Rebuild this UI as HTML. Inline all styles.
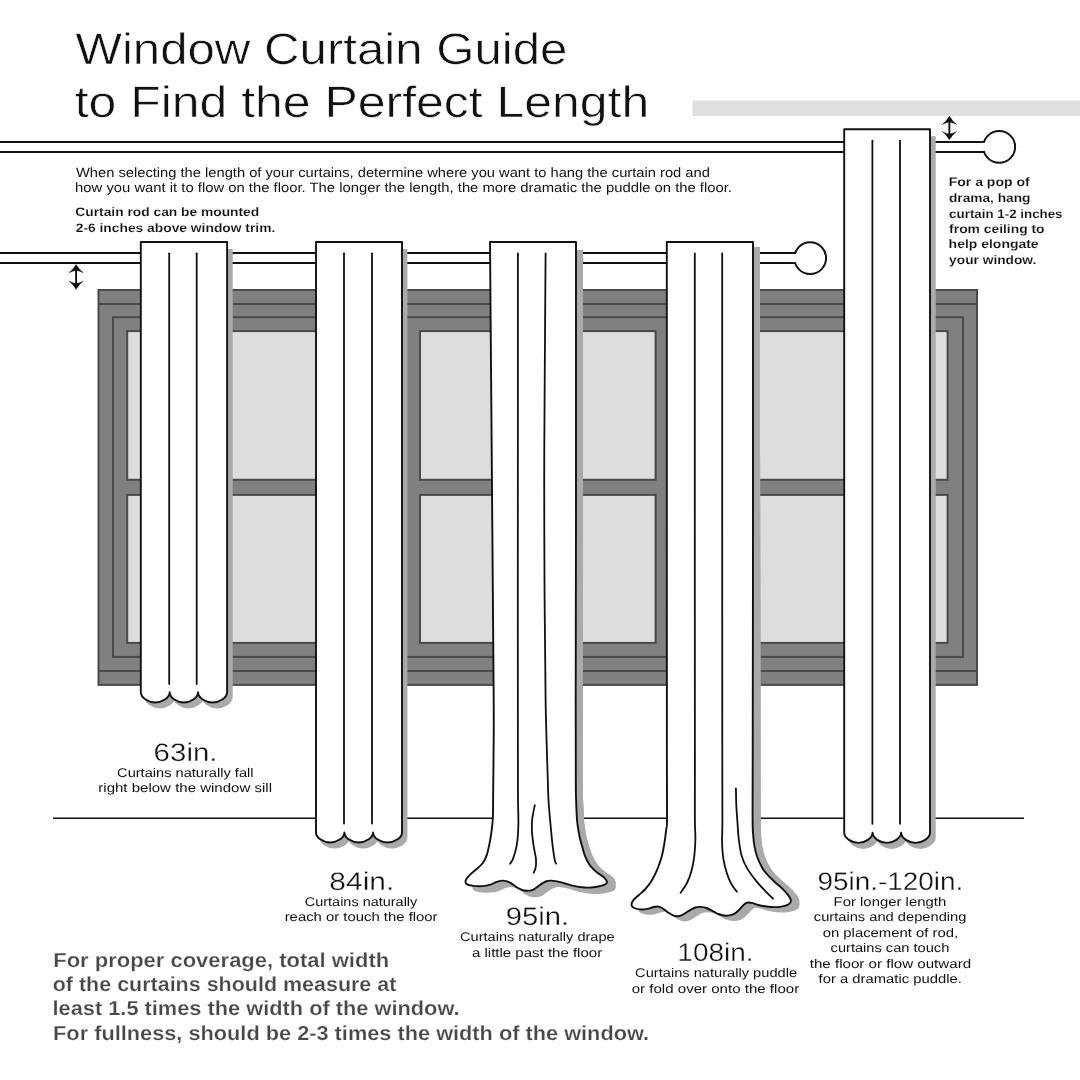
<!DOCTYPE html>
<html><head><meta charset="utf-8"><title>Window Curtain Guide</title>
<style>html,body{margin:0;padding:0;background:#fff;}body{width:1080px;height:1080px;overflow:hidden;}svg{display:block;position:absolute;left:0;top:0;filter:grayscale(1);}text{font-family:"Liberation Sans",sans-serif;text-rendering:geometricPrecision;}</style>
</head><body>
<svg width="1080" height="1080" viewBox="0 0 1080 1080">
<rect x="0" y="0" width="1080" height="1080" fill="#ffffff"/>
<rect x="692.5" y="100.5" width="387.5" height="15.5" fill="#dfdfdf"/>
<g stroke="#4a4a4a" stroke-width="2" stroke-linejoin="miter">
<rect x="98.5" y="290" width="878.5" height="394.9" fill="#808080"/>
<line x1="98.5" y1="304" x2="977" y2="304"/>
<line x1="98.5" y1="671" x2="977" y2="671"/>
<rect x="113" y="317.2" width="850" height="339.7" fill="#808080"/>
<rect x="127.2" y="331.1" width="277.8" height="148.7" fill="#dddddd"/>
<rect x="127.2" y="494.9" width="277.8" height="148.0" fill="#dddddd"/>
<rect x="420.0" y="331.1" width="235.6" height="148.7" fill="#dddddd"/>
<rect x="420.0" y="494.9" width="235.6" height="148.0" fill="#dddddd"/>
<rect x="670.6" y="331.1" width="277.0" height="148.7" fill="#dddddd"/>
<rect x="670.6" y="494.9" width="277.0" height="148.0" fill="#dddddd"/>
</g>
<g stroke="#111" stroke-width="2" fill="none">
<line x1="0" y1="141.9" x2="985.3" y2="141.9"/>
<line x1="0" y1="151.9" x2="985.3" y2="151.9"/>
<circle cx="999.2" cy="146.9" r="15.9" fill="#fff"/>
<rect x="980.3" y="142.9" width="6" height="8" fill="#fff" stroke="none"/>
</g>
<g stroke="#111" stroke-width="2" fill="none">
<line x1="0" y1="253.1" x2="796.3" y2="253.1"/>
<line x1="0" y1="263.1" x2="796.3" y2="263.1"/>
<circle cx="810.2" cy="258.1" r="15.9" fill="#fff"/>
<rect x="791.3" y="254.1" width="6" height="8" fill="#fff" stroke="none"/>
</g>
<line x1="53" y1="818.2" x2="1024" y2="818.2" stroke="#111" stroke-width="1.5"/>
<g fill="#111" stroke="#111" stroke-width="0.3" stroke-linejoin="round">
<path d="M76.10,264.40 Q73.20,269.30 68.90,272.80 Q73.10,270.80 76.10,270.30 Q79.10,270.80 83.30,272.80 Q79.00,269.30 76.10,264.40 Z"/>
<path d="M76.10,289.40 Q73.20,284.50 68.90,281.00 Q73.10,283.00 76.10,283.50 Q79.10,283.00 83.30,281.00 Q79.00,284.50 76.10,289.40 Z"/>
<rect x="75.15" y="268.40" width="1.9" height="17.00" stroke="none"/>
</g>
<g fill="#111" stroke="#111" stroke-width="0.3" stroke-linejoin="round">
<path d="M949.40,116.10 Q946.50,121.00 942.20,124.50 Q946.40,122.50 949.40,122.00 Q952.40,122.50 956.60,124.50 Q952.30,121.00 949.40,116.10 Z"/>
<path d="M949.40,139.80 Q946.50,134.90 942.20,131.40 Q946.40,133.40 949.40,133.90 Q952.40,133.40 956.60,131.40 Q952.30,134.90 949.40,139.80 Z"/>
<rect x="948.45" y="120.10" width="1.9" height="15.70" stroke="none"/>
</g>
<g>
<clipPath id="c140"><rect x="135.8" y="249.0" width="200" height="1000"/></clipPath>
<g clip-path="url(#c140)"><path d="M140.8,242.0 L227.1,242.0 L227.1,692.3 C227.10,697.93 219.06,702.50 212.55,702.50 C206.04,702.50 198.00,697.93 198.00,692.30 C198.00,697.93 190.18,702.50 183.85,702.50 C177.52,702.50 169.70,697.93 169.70,692.30 C169.70,697.93 161.72,702.50 155.25,702.50 C148.78,702.50 140.80,697.93 140.80,692.30 Z" transform="translate(4.6,5.0)" fill="#aaaaaa" stroke="#aaaaaa" stroke-width="2"/></g>
<path d="M140.8,242.0 L227.1,242.0 L227.1,692.3 C227.10,697.93 219.06,702.50 212.55,702.50 C206.04,702.50 198.00,697.93 198.00,692.30 C198.00,697.93 190.18,702.50 183.85,702.50 C177.52,702.50 169.70,697.93 169.70,692.30 C169.70,697.93 161.72,702.50 155.25,702.50 C148.78,702.50 140.80,697.93 140.80,692.30 Z" fill="#fff" stroke="#111" stroke-width="1.9" stroke-linejoin="round"/>
<line x1="169.2" y1="253.3" x2="169.2" y2="684.0" stroke="#111" stroke-width="1.8" stroke-linecap="round"/>
<line x1="196.7" y1="253.3" x2="196.7" y2="684.0" stroke="#111" stroke-width="1.8" stroke-linecap="round"/>
</g>
<g>
<clipPath id="c316"><rect x="311.0" y="249.0" width="200" height="1000"/></clipPath>
<g clip-path="url(#c316)"><path d="M316.0,242.0 L402.0,242.0 L402.0,832.4 C402.00,837.98 393.99,842.50 387.50,842.50 C381.01,842.50 373.00,837.98 373.00,832.40 C373.00,837.98 365.10,842.50 358.70,842.50 C352.30,842.50 344.40,837.98 344.40,832.40 C344.40,837.98 336.56,842.50 330.20,842.50 C323.84,842.50 316.00,837.98 316.00,832.40 Z" transform="translate(4.4,5.0)" fill="#aaaaaa" stroke="#aaaaaa" stroke-width="2"/></g>
<path d="M316.0,242.0 L402.0,242.0 L402.0,832.4 C402.00,837.98 393.99,842.50 387.50,842.50 C381.01,842.50 373.00,837.98 373.00,832.40 C373.00,837.98 365.10,842.50 358.70,842.50 C352.30,842.50 344.40,837.98 344.40,832.40 C344.40,837.98 336.56,842.50 330.20,842.50 C323.84,842.50 316.00,837.98 316.00,832.40 Z" fill="#fff" stroke="#111" stroke-width="1.9" stroke-linejoin="round"/>
<line x1="344.0" y1="253.3" x2="344.0" y2="823.5" stroke="#111" stroke-width="1.8" stroke-linecap="round"/>
<line x1="372.0" y1="253.3" x2="372.0" y2="823.5" stroke="#111" stroke-width="1.8" stroke-linecap="round"/>
</g>
<g>
<clipPath id="c844"><rect x="839.2" y="136.3" width="200" height="1000"/></clipPath>
<g clip-path="url(#c844)"><path d="M844.2,129.3 L930.0,129.3 L930.0,832.6 C930.00,838.29 922.02,842.90 915.55,842.90 C909.08,842.90 901.10,838.29 901.10,832.60 C901.10,838.29 893.23,842.90 886.85,842.90 C880.47,842.90 872.60,838.29 872.60,832.60 C872.60,838.29 864.76,842.90 858.40,842.90 C852.04,842.90 844.20,838.29 844.20,832.60 Z" transform="translate(4.7,5.0)" fill="#aaaaaa" stroke="#aaaaaa" stroke-width="2"/></g>
<path d="M844.2,129.3 L930.0,129.3 L930.0,832.6 C930.00,838.29 922.02,842.90 915.55,842.90 C909.08,842.90 901.10,838.29 901.10,832.60 C901.10,838.29 893.23,842.90 886.85,842.90 C880.47,842.90 872.60,838.29 872.60,832.60 C872.60,838.29 864.76,842.90 858.40,842.90 C852.04,842.90 844.20,838.29 844.20,832.60 Z" fill="#fff" stroke="#111" stroke-width="1.9" stroke-linejoin="round"/>
<line x1="872.4" y1="140.6" x2="872.4" y2="823.8" stroke="#111" stroke-width="1.8" stroke-linecap="round"/>
<line x1="900.0" y1="140.6" x2="900.0" y2="823.8" stroke="#111" stroke-width="1.8" stroke-linecap="round"/>
</g>
<g>
<clipPath id="c3"><rect x="430.0" y="250.0" width="300" height="800"/></clipPath>
<g clip-path="url(#c3)" fill="#aaaaaa" stroke="#aaaaaa" stroke-width="2" stroke-linejoin="round">
<path d="M496.0,242.0 L582.0,242.0 L582.0,500.0 C582.0,576.3 581.7,653.3 581.7,700.0 C581.7,746.7 581.7,763.3 581.8,780.0 C581.9,796.7 581.9,793.6 582.1,800.0 C582.3,806.4 582.6,813.9 582.9,818.5 C583.2,823.1 583.5,824.7 584.0,827.8 C584.5,830.9 584.9,833.9 585.6,837.0 C586.3,840.1 587.2,843.2 588.2,846.3 C589.2,849.4 590.1,852.5 591.5,855.6 C593.0,858.7 594.9,862.3 596.7,864.8 C598.5,867.3 600.4,868.8 602.1,870.4 C603.9,872.0 605.4,872.9 607.0,874.1 C608.7,875.3 610.9,876.5 612.2,877.8 C613.5,879.1 614.6,880.8 614.7,881.9 C614.8,883.0 614.5,883.9 612.6,884.7 C610.7,885.6 606.8,886.5 603.4,887.0 C600.0,887.5 596.1,887.7 592.2,887.5 C588.3,887.3 584.0,886.5 580.2,885.6 C576.3,884.8 572.6,883.2 569.1,882.4 C565.6,881.6 561.6,880.8 559.0,880.6 C556.4,880.5 555.3,880.8 553.5,881.5 C551.7,882.2 550.1,883.3 548.0,884.7 C545.9,886.1 543.1,888.8 540.6,889.8 C538.1,890.8 535.7,891.0 533.2,890.7 C530.7,890.4 528.4,889.4 525.8,888.0 C523.2,886.6 519.9,883.6 517.4,882.4 C514.9,881.2 513.1,880.7 510.9,880.6 C508.8,880.5 506.6,881.2 504.5,881.9 C502.4,882.6 500.3,884.0 498.0,884.7 C495.7,885.4 493.4,885.9 490.6,886.1 C487.8,886.3 483.9,886.2 481.3,885.9 C478.7,885.6 476.1,885.0 474.8,884.3 C473.5,883.6 473.4,882.8 473.3,881.9 C473.2,881.0 473.5,880.0 474.4,878.7 C475.3,877.4 476.7,875.8 478.4,874.1 C480.1,872.4 482.7,870.4 484.6,868.5 C486.5,866.6 488.4,865.3 489.9,863.0 C491.4,860.7 492.5,858.0 493.5,854.6 C494.4,851.2 495.0,846.6 495.7,842.6 C496.4,838.6 497.1,834.6 497.6,830.6 C498.1,826.6 498.6,823.6 498.8,818.5 C499.1,813.4 499.0,809.8 499.1,800.0 C499.2,790.2 499.4,776.7 499.5,760.0 C499.6,743.3 499.9,743.3 499.7,700.0 C499.5,656.7 498.7,576.3 498.1,500.0 Z"/>
<path d="M496.0,243.4 L582.0,243.4 L582.0,501.4 C582.0,577.7 581.7,654.7 581.7,701.4 C581.7,748.0 581.7,764.7 581.8,781.4 C581.9,798.0 581.9,795.0 582.1,801.4 C582.3,807.8 582.6,815.2 582.9,819.9 C583.2,824.5 583.5,826.1 584.0,829.2 C584.5,832.3 584.9,835.3 585.6,838.4 C586.3,841.5 587.2,844.6 588.2,847.7 C589.2,850.8 590.1,853.9 591.5,857.0 C593.0,860.1 594.9,863.7 596.7,866.2 C598.5,868.6 600.4,870.2 602.1,871.8 C603.9,873.3 605.4,874.2 607.0,875.5 C608.7,876.7 610.9,877.9 612.2,879.2 C613.5,880.5 614.6,882.1 614.7,883.3 C614.8,884.4 614.5,885.2 612.6,886.1 C610.7,886.9 606.8,887.9 603.4,888.4 C600.0,888.8 596.1,889.1 592.2,888.9 C588.3,888.6 584.0,887.8 580.2,887.0 C576.3,886.1 572.6,884.6 569.1,883.8 C565.6,882.9 561.6,882.1 559.0,882.0 C556.4,881.8 555.3,882.2 553.5,882.9 C551.7,883.6 550.1,884.7 548.0,886.1 C545.9,887.5 543.1,890.2 540.6,891.2 C538.1,892.2 535.7,892.4 533.2,892.1 C530.7,891.8 528.4,890.8 525.8,889.4 C523.2,888.0 519.9,885.0 517.4,883.8 C514.9,882.5 513.1,882.1 510.9,882.0 C508.8,881.9 506.6,882.6 504.5,883.3 C502.4,884.0 500.3,885.4 498.0,886.1 C495.7,886.8 493.4,887.3 490.6,887.5 C487.8,887.7 483.9,887.6 481.3,887.3 C478.7,887.0 476.1,886.3 474.8,885.7 C473.5,885.0 473.4,884.2 473.3,883.3 C473.2,882.3 473.5,881.4 474.4,880.1 C475.3,878.8 476.7,877.2 478.4,875.5 C480.1,873.8 482.7,871.7 484.6,869.9 C486.5,868.0 488.4,866.7 489.9,864.4 C491.4,862.1 492.5,859.4 493.5,856.0 C494.4,852.6 495.0,848.0 495.7,844.0 C496.4,840.0 497.1,836.0 497.6,832.0 C498.1,828.0 498.6,825.0 498.8,819.9 C499.1,814.8 499.0,811.1 499.1,801.4 C499.2,791.6 499.4,778.0 499.5,761.4 C499.6,744.7 499.9,744.7 499.7,701.4 C499.5,658.0 498.7,577.7 498.1,501.4 Z"/>
<path d="M496.0,244.8 L582.0,244.8 L582.0,502.8 C582.0,579.1 581.7,656.1 581.7,702.8 C581.7,749.4 581.7,766.1 581.8,782.8 C581.9,799.4 581.9,796.3 582.1,802.8 C582.3,809.2 582.6,816.6 582.9,821.2 C583.2,825.9 583.5,827.5 584.0,830.5 C584.5,833.6 584.9,836.7 585.6,839.8 C586.3,842.8 587.2,845.9 588.2,849.0 C589.2,852.1 590.1,855.3 591.5,858.4 C593.0,861.4 594.9,865.1 596.7,867.5 C598.5,870.0 600.4,871.6 602.1,873.1 C603.9,874.7 605.4,875.6 607.0,876.9 C608.7,878.1 610.9,879.2 612.2,880.5 C613.5,881.8 614.6,883.5 614.7,884.6 C614.8,885.8 614.5,886.6 612.6,887.5 C610.7,888.3 606.8,889.3 603.4,889.8 C600.0,890.2 596.1,890.5 592.2,890.2 C588.3,890.0 584.0,889.2 580.2,888.4 C576.3,887.5 572.6,886.0 569.1,885.1 C565.6,884.3 561.6,883.5 559.0,883.4 C556.4,883.2 555.3,883.6 553.5,884.2 C551.7,884.9 550.1,886.1 548.0,887.5 C545.9,888.8 543.1,891.5 540.6,892.5 C538.1,893.5 535.7,893.8 533.2,893.5 C530.7,893.2 528.4,892.1 525.8,890.8 C523.2,889.4 519.9,886.4 517.4,885.1 C514.9,883.9 513.1,883.4 510.9,883.4 C508.8,883.3 506.6,884.0 504.5,884.6 C502.4,885.3 500.3,886.8 498.0,887.5 C495.7,888.2 493.4,888.7 490.6,888.9 C487.8,889.0 483.9,889.0 481.3,888.6 C478.7,888.3 476.1,887.7 474.8,887.0 C473.5,886.4 473.4,885.6 473.3,884.6 C473.2,883.7 473.5,882.8 474.4,881.5 C475.3,880.2 476.7,878.6 478.4,876.9 C480.1,875.1 482.7,873.1 484.6,871.2 C486.5,869.4 488.4,868.1 489.9,865.8 C491.4,863.4 492.5,860.8 493.5,857.4 C494.4,854.0 495.0,849.4 495.7,845.4 C496.4,841.4 497.1,837.4 497.6,833.4 C498.1,829.3 498.6,826.4 498.8,821.2 C499.1,816.1 499.0,812.5 499.1,802.8 C499.2,793.0 499.4,779.4 499.5,762.8 C499.6,746.1 499.9,746.1 499.7,702.8 C499.5,659.4 498.7,579.1 498.1,502.8 Z"/>
<path d="M496.0,246.1 L582.0,246.1 L582.0,504.1 C582.0,580.5 581.7,657.5 581.7,704.1 C581.7,750.8 581.7,767.5 581.8,784.1 C581.9,800.8 581.9,797.7 582.1,804.1 C582.3,810.5 582.6,818.0 582.9,822.6 C583.2,827.3 583.5,828.8 584.0,831.9 C584.5,835.0 584.9,838.0 585.6,841.1 C586.3,844.2 587.2,847.3 588.2,850.4 C589.2,853.5 590.1,856.6 591.5,859.7 C593.0,862.8 594.9,866.5 596.7,868.9 C598.5,871.4 600.4,873.0 602.1,874.5 C603.9,876.1 605.4,877.0 607.0,878.2 C608.7,879.5 610.9,880.6 612.2,881.9 C613.5,883.2 614.6,884.9 614.7,886.0 C614.8,887.2 614.5,888.0 612.6,888.8 C610.7,889.7 606.8,890.7 603.4,891.1 C600.0,891.6 596.1,891.9 592.2,891.6 C588.3,891.4 584.0,890.6 580.2,889.7 C576.3,888.9 572.6,887.4 569.1,886.5 C565.6,885.7 561.6,884.9 559.0,884.7 C556.4,884.6 555.3,884.9 553.5,885.6 C551.7,886.3 550.1,887.4 548.0,888.8 C545.9,890.2 543.1,892.9 540.6,893.9 C538.1,894.9 535.7,895.1 533.2,894.8 C530.7,894.5 528.4,893.5 525.8,892.1 C523.2,890.7 519.9,887.8 517.4,886.5 C514.9,885.3 513.1,884.8 510.9,884.7 C508.8,884.6 506.6,885.3 504.5,886.0 C502.4,886.7 500.3,888.1 498.0,888.8 C495.7,889.5 493.4,890.0 490.6,890.2 C487.8,890.4 483.9,890.3 481.3,890.0 C478.7,889.7 476.1,889.1 474.8,888.4 C473.5,887.8 473.4,887.0 473.3,886.0 C473.2,885.1 473.5,884.1 474.4,882.8 C475.3,881.5 476.7,879.9 478.4,878.2 C480.1,876.5 482.7,874.5 484.6,872.6 C486.5,870.8 488.4,869.4 489.9,867.1 C491.4,864.8 492.5,862.1 493.5,858.7 C494.4,855.3 495.0,850.7 495.7,846.7 C496.4,842.7 497.1,838.7 497.6,834.7 C498.1,830.7 498.6,827.7 498.8,822.6 C499.1,817.5 499.0,813.9 499.1,804.1 C499.2,794.4 499.4,780.8 499.5,764.1 C499.6,747.5 499.9,747.5 499.7,704.1 C499.5,660.8 498.7,580.5 498.1,504.1 Z"/>
<path d="M496.0,247.5 L582.0,247.5 L582.0,505.5 C582.0,581.8 581.7,658.8 581.7,705.5 C581.7,752.2 581.7,768.8 581.8,785.5 C581.9,802.2 581.9,799.1 582.1,805.5 C582.3,811.9 582.6,819.4 582.9,824.0 C583.2,828.6 583.5,830.2 584.0,833.3 C584.5,836.4 584.9,839.4 585.6,842.5 C586.3,845.6 587.2,848.7 588.2,851.8 C589.2,854.9 590.1,858.0 591.5,861.1 C593.0,864.2 594.9,867.8 596.7,870.3 C598.5,872.8 600.4,874.3 602.1,875.9 C603.9,877.5 605.4,878.4 607.0,879.6 C608.7,880.8 610.9,882.0 612.2,883.3 C613.5,884.6 614.6,886.2 614.7,887.4 C614.8,888.5 614.5,889.4 612.6,890.2 C610.7,891.1 606.8,892.0 603.4,892.5 C600.0,893.0 596.1,893.2 592.2,893.0 C588.3,892.8 584.0,892.0 580.2,891.1 C576.3,890.2 572.6,888.7 569.1,887.9 C565.6,887.1 561.6,886.2 559.0,886.1 C556.4,886.0 555.3,886.3 553.5,887.0 C551.7,887.7 550.1,888.8 548.0,890.2 C545.9,891.6 543.1,894.3 540.6,895.3 C538.1,896.3 535.7,896.5 533.2,896.2 C530.7,895.9 528.4,894.9 525.8,893.5 C523.2,892.1 519.9,889.1 517.4,887.9 C514.9,886.7 513.1,886.2 510.9,886.1 C508.8,886.0 506.6,886.7 504.5,887.4 C502.4,888.1 500.3,889.5 498.0,890.2 C495.7,890.9 493.4,891.4 490.6,891.6 C487.8,891.8 483.9,891.7 481.3,891.4 C478.7,891.1 476.1,890.5 474.8,889.8 C473.5,889.1 473.4,888.3 473.3,887.4 C473.2,886.5 473.5,885.5 474.4,884.2 C475.3,882.9 476.7,881.3 478.4,879.6 C480.1,877.9 482.7,875.9 484.6,874.0 C486.5,872.1 488.4,870.8 489.9,868.5 C491.4,866.2 492.5,863.5 493.5,860.1 C494.4,856.7 495.0,852.1 495.7,848.1 C496.4,844.1 497.1,840.1 497.6,836.1 C498.1,832.1 498.6,829.1 498.8,824.0 C499.1,818.9 499.0,815.2 499.1,805.5 C499.2,795.8 499.4,782.2 499.5,765.5 C499.6,748.8 499.9,748.8 499.7,705.5 C499.5,662.2 498.7,581.8 498.1,505.5 Z"/>
</g>
<path d="M490.0,242.0 L576.0,242.0 L576.0,500.0 C576.0,576.3 575.7,653.3 575.7,700.0 C575.7,746.7 575.7,763.3 575.8,780.0 C575.9,796.7 575.9,793.6 576.1,800.0 C576.3,806.4 576.6,813.9 576.9,818.5 C577.2,823.1 577.5,824.7 578.0,827.8 C578.5,830.9 578.9,833.9 579.6,837.0 C580.3,840.1 581.2,843.2 582.1,846.3 C583.0,849.4 583.7,852.5 584.9,855.6 C586.1,858.7 587.9,862.3 589.5,864.8 C591.1,867.3 593.0,868.8 594.6,870.4 C596.2,872.0 597.7,872.9 599.3,874.1 C600.9,875.3 603.1,876.5 604.4,877.8 C605.7,879.1 606.8,880.8 606.9,881.9 C607.0,883.0 606.7,883.9 604.8,884.7 C602.9,885.6 599.0,886.5 595.6,887.0 C592.2,887.5 588.3,887.7 584.4,887.5 C580.5,887.3 576.2,886.5 572.4,885.6 C568.5,884.8 564.8,883.2 561.3,882.4 C557.8,881.6 553.8,880.8 551.2,880.6 C548.6,880.5 547.5,880.8 545.7,881.5 C543.9,882.2 542.4,883.3 540.2,884.7 C538.1,886.1 535.3,888.8 532.8,889.8 C530.3,890.8 527.9,891.0 525.4,890.7 C522.9,890.4 520.6,889.4 518.0,888.0 C515.4,886.6 512.1,883.6 509.6,882.4 C507.1,881.2 505.2,880.7 503.1,880.6 C501.0,880.5 498.9,881.2 496.7,881.9 C494.5,882.6 492.5,884.0 490.2,884.7 C487.9,885.4 485.6,885.9 482.8,886.1 C480.0,886.3 476.1,886.2 473.5,885.9 C470.9,885.6 468.3,885.0 467.0,884.3 C465.7,883.6 465.6,882.8 465.5,881.9 C465.4,881.0 465.7,880.0 466.6,878.7 C467.5,877.4 468.9,875.8 470.7,874.1 C472.5,872.4 475.2,870.4 477.2,868.5 C479.2,866.6 481.2,865.3 482.8,863.0 C484.4,860.7 485.8,858.0 486.9,854.6 C488.0,851.2 488.9,846.6 489.7,842.6 C490.5,838.6 491.1,834.6 491.6,830.6 C492.1,826.6 492.6,823.6 492.8,818.5 C493.1,813.4 493.0,809.8 493.1,800.0 C493.2,790.2 493.4,776.7 493.5,760.0 C493.6,743.3 493.9,743.3 493.7,700.0 C493.5,656.7 492.7,576.3 492.1,500.0 Z" fill="#fff" stroke="#111" stroke-width="1.9" stroke-linejoin="round"/>
<g fill="none" stroke="#111" stroke-width="1.8" stroke-linecap="round">
<path d="M517.9,253.3 C517.9,277.8 517.9,342.2 517.9,400.0 C517.9,457.8 517.8,540.0 517.8,600.0 C517.8,660.0 517.9,726.7 517.9,760.0 C517.9,793.3 517.9,789.5 518.0,800.0 C518.1,810.5 518.5,816.5 518.4,823.1 C518.3,829.7 518.0,835.0 517.5,839.8 C517.0,844.6 516.1,848.5 515.2,851.9 C514.4,855.3 513.2,858.2 512.4,860.2 C511.5,862.2 510.5,863.1 510.1,863.7 "/>
<path d="M545.6,253.3 C545.4,277.8 544.8,362.2 544.6,400.0 C544.4,437.8 544.2,446.7 544.2,480.0 C544.2,513.3 544.4,563.3 544.6,600.0 C544.8,636.7 545.1,670.0 545.6,700.0 C546.1,730.0 547.3,763.3 547.8,780.0 C548.3,796.7 548.1,792.8 548.5,800.0 C548.9,807.2 549.7,815.4 550.4,823.1 C551.1,830.8 551.9,840.0 552.7,846.3 C553.5,852.6 554.4,858.2 555.0,861.1 C555.6,864.0 556.0,863.2 556.2,863.6 "/>
<path d="M534.8,805.1 C534.4,807.3 532.8,814.2 532.3,818.5 C531.8,822.8 531.7,826.0 531.9,830.6 C532.1,835.2 533.0,841.5 533.7,846.3 C534.4,851.1 535.7,855.8 536.0,859.3 C536.3,862.8 536.0,865.4 535.6,867.6 C535.2,869.8 534.0,871.9 533.7,872.7 "/>
</g></g>
<g>
<clipPath id="c4"><rect x="606.8" y="247.3" width="300" height="800"/></clipPath>
<g clip-path="url(#c4)" fill="#aaaaaa" stroke="#aaaaaa" stroke-width="2" stroke-linejoin="round">
<path d="M672.6,242.0 L758.8,242.0 L759.1,500.0 C759.2,586.3 759.4,706.7 759.4,760.0 C759.5,813.3 759.4,807.7 759.5,820.0 C759.6,832.3 759.7,829.6 760.0,833.9 C760.3,838.2 760.6,842.0 761.3,845.9 C762.0,849.8 762.8,853.5 764.1,857.0 C765.4,860.5 767.3,864.4 768.9,867.2 C770.5,870.0 771.5,871.2 773.7,873.7 C775.9,876.2 779.3,879.4 782.1,882.0 C785.0,884.6 788.2,887.1 790.6,889.4 C792.9,891.7 794.9,894.0 796.2,895.9 C797.5,897.8 798.5,899.2 798.5,900.6 C798.5,902.0 797.8,903.3 796.2,904.3 C794.6,905.3 791.9,906.1 788.8,906.6 C785.7,907.1 781.4,907.2 777.7,907.0 C774.0,906.8 769.7,905.9 766.6,905.2 C763.5,904.5 761.2,903.3 759.2,902.9 C757.2,902.5 755.9,902.2 754.5,902.6 C753.1,903.0 752.2,903.9 750.8,905.2 C749.4,906.5 747.9,908.8 746.2,910.3 C744.5,911.8 742.8,913.5 740.6,914.4 C738.4,915.3 735.7,915.9 733.2,915.8 C730.7,915.7 727.8,914.7 725.8,914.0 C723.8,913.3 723.4,912.7 721.4,911.7 C719.4,910.7 716.3,908.8 714.0,908.0 C711.7,907.2 709.4,907.0 707.5,906.9 C705.6,906.8 704.6,906.9 702.9,907.5 C701.2,908.1 699.5,909.1 697.3,910.3 C695.1,911.5 691.9,913.9 689.9,914.9 C687.9,915.9 686.8,916.2 685.3,916.3 C683.8,916.4 682.3,916.1 680.6,915.4 C678.9,914.7 677.0,913.3 675.1,912.1 C673.2,910.9 671.0,908.9 669.5,908.0 C668.0,907.1 667.2,906.8 665.8,906.6 C664.4,906.4 663.1,906.6 661.2,907.0 C659.4,907.4 657.0,908.5 654.7,908.9 C652.4,909.3 649.6,909.6 647.3,909.4 C645.0,909.2 642.2,908.4 640.8,907.5 C639.4,906.6 638.9,905.6 639.0,904.3 C639.1,903.0 640.1,901.1 641.3,899.6 C642.5,898.1 644.5,896.8 646.4,895.0 C648.3,893.2 650.7,891.5 652.9,889.0 C655.0,886.5 657.3,883.5 659.2,880.2 C661.1,876.9 662.9,873.0 664.5,869.1 C666.0,865.2 667.4,861.3 668.5,857.0 C669.6,852.7 670.5,847.7 671.3,843.1 C672.1,838.5 672.7,833.1 673.1,829.3 C673.5,825.4 673.8,831.5 673.9,820.0 C674.0,808.5 673.8,813.3 673.6,760.0 C673.5,706.7 673.0,586.3 672.9,500.0 Z"/>
<path d="M672.6,243.4 L758.8,243.4 L759.1,501.4 C759.2,587.8 759.4,708.1 759.4,761.4 C759.5,814.8 759.4,809.1 759.5,821.4 C759.6,833.8 759.7,831.0 760.0,835.3 C760.3,839.6 760.6,843.5 761.3,847.3 C762.0,851.2 762.8,854.9 764.1,858.4 C765.4,862.0 767.3,865.9 768.9,868.6 C770.5,871.4 771.5,872.7 773.7,875.1 C775.9,877.6 779.3,880.8 782.1,883.4 C785.0,886.0 788.2,888.5 790.6,890.8 C792.9,893.1 794.9,895.5 796.2,897.3 C797.5,899.2 798.5,900.6 798.5,902.0 C798.5,903.4 797.8,904.7 796.2,905.7 C794.6,906.7 791.9,907.6 788.8,908.0 C785.7,908.5 781.4,908.7 777.7,908.4 C774.0,908.2 769.7,907.3 766.6,906.6 C763.5,906.0 761.2,904.8 759.2,904.3 C757.2,903.9 755.9,903.6 754.5,904.0 C753.1,904.4 752.2,905.4 750.8,906.6 C749.4,907.9 747.9,910.2 746.2,911.7 C744.5,913.3 742.8,914.9 740.6,915.8 C738.4,916.7 735.7,917.3 733.2,917.2 C730.7,917.2 727.8,916.1 725.8,915.4 C723.8,914.8 723.4,914.1 721.4,913.1 C719.4,912.1 716.3,910.2 714.0,909.4 C711.7,908.6 709.4,908.4 707.5,908.3 C705.6,908.2 704.6,908.4 702.9,908.9 C701.2,909.5 699.5,910.5 697.3,911.7 C695.1,913.0 691.9,915.3 689.9,916.3 C687.9,917.3 686.8,917.6 685.3,917.7 C683.8,917.8 682.3,917.5 680.6,916.8 C678.9,916.1 677.0,914.8 675.1,913.5 C673.2,912.3 671.0,910.3 669.5,909.4 C668.0,908.5 667.2,908.2 665.8,908.0 C664.4,907.9 663.1,908.0 661.2,908.4 C659.4,908.8 657.0,909.9 654.7,910.3 C652.4,910.7 649.6,911.1 647.3,910.8 C645.0,910.6 642.2,909.8 640.8,908.9 C639.4,908.1 638.9,907.0 639.0,905.7 C639.1,904.4 640.1,902.6 641.3,901.0 C642.5,899.5 644.5,898.2 646.4,896.4 C648.3,894.7 650.7,892.9 652.9,890.4 C655.0,888.0 657.3,885.0 659.2,881.6 C661.1,878.3 662.9,874.4 664.5,870.5 C666.0,866.7 667.4,862.8 668.5,858.4 C669.6,854.1 670.5,849.1 671.3,844.5 C672.1,839.9 672.7,834.6 673.1,830.7 C673.5,826.9 673.8,833.0 673.9,821.4 C674.0,809.9 673.8,814.8 673.6,761.4 C673.5,708.1 673.0,587.8 672.9,501.4 Z"/>
<path d="M672.6,244.9 L758.8,244.9 L759.1,502.9 C759.2,589.2 759.4,709.5 759.4,762.9 C759.5,816.2 759.4,810.5 759.5,822.9 C759.6,835.2 759.7,832.5 760.0,836.8 C760.3,841.1 760.6,844.9 761.3,848.8 C762.0,852.6 762.8,856.3 764.1,859.9 C765.4,863.4 767.3,867.3 768.9,870.1 C770.5,872.9 771.5,874.1 773.7,876.6 C775.9,879.0 779.3,882.2 782.1,884.9 C785.0,887.5 788.2,890.0 790.6,892.3 C792.9,894.6 794.9,896.9 796.2,898.8 C797.5,900.6 798.5,902.1 798.5,903.5 C798.5,904.9 797.8,906.2 796.2,907.2 C794.6,908.2 791.9,909.0 788.8,909.5 C785.7,909.9 781.4,910.1 777.7,909.9 C774.0,909.6 769.7,908.8 766.6,908.1 C763.5,907.4 761.2,906.2 759.2,905.8 C757.2,905.3 755.9,905.1 754.5,905.5 C753.1,905.9 752.2,906.8 750.8,908.1 C749.4,909.4 747.9,911.6 746.2,913.2 C744.5,914.7 742.8,916.4 740.6,917.3 C738.4,918.2 735.7,918.7 733.2,918.7 C730.7,918.6 727.8,917.5 725.8,916.9 C723.8,916.2 723.4,915.6 721.4,914.6 C719.4,913.6 716.3,911.7 714.0,910.9 C711.7,910.1 709.4,909.9 707.5,909.8 C705.6,909.7 704.6,909.8 702.9,910.4 C701.2,910.9 699.5,911.9 697.3,913.2 C695.1,914.4 691.9,916.8 689.9,917.8 C687.9,918.8 686.8,919.1 685.3,919.2 C683.8,919.2 682.3,919.0 680.6,918.3 C678.9,917.6 677.0,916.2 675.1,915.0 C673.2,913.7 671.0,911.8 669.5,910.9 C668.0,910.0 667.2,909.6 665.8,909.5 C664.4,909.3 663.1,909.5 661.2,909.9 C659.4,910.2 657.0,911.4 654.7,911.8 C652.4,912.2 649.6,912.5 647.3,912.3 C645.0,912.0 642.2,911.2 640.8,910.4 C639.4,909.5 638.9,908.5 639.0,907.2 C639.1,905.8 640.1,904.0 641.3,902.5 C642.5,900.9 644.5,899.6 646.4,897.9 C648.3,896.1 650.7,894.3 652.9,891.9 C655.0,889.4 657.3,886.4 659.2,883.1 C661.1,879.8 662.9,875.8 664.5,872.0 C666.0,868.1 667.4,864.2 668.5,859.9 C669.6,855.5 670.5,850.6 671.3,846.0 C672.1,841.4 672.7,836.0 673.1,832.2 C673.5,828.3 673.8,834.4 673.9,822.9 C674.0,811.3 673.8,816.2 673.6,762.9 C673.5,709.5 673.0,589.2 672.9,502.9 Z"/>
<path d="M672.6,246.3 L758.8,246.3 L759.1,504.3 C759.2,590.6 759.4,711.0 759.4,764.3 C759.5,817.6 759.4,812.0 759.5,824.3 C759.6,836.6 759.7,833.9 760.0,838.2 C760.3,842.5 760.6,846.3 761.3,850.2 C762.0,854.0 762.8,857.8 764.1,861.3 C765.4,864.8 767.3,868.7 768.9,871.5 C770.5,874.3 771.5,875.5 773.7,878.0 C775.9,880.5 779.3,883.7 782.1,886.3 C785.0,888.9 788.2,891.4 790.6,893.7 C792.9,896.0 794.9,898.3 796.2,900.2 C797.5,902.1 798.5,903.5 798.5,904.9 C798.5,906.3 797.8,907.6 796.2,908.6 C794.6,909.6 791.9,910.4 788.8,910.9 C785.7,911.4 781.4,911.5 777.7,911.3 C774.0,911.1 769.7,910.2 766.6,909.5 C763.5,908.8 761.2,907.6 759.2,907.2 C757.2,906.8 755.9,906.5 754.5,906.9 C753.1,907.3 752.2,908.2 750.8,909.5 C749.4,910.8 747.9,913.1 746.2,914.6 C744.5,916.1 742.8,917.8 740.6,918.7 C738.4,919.6 735.7,920.2 733.2,920.1 C730.7,920.0 727.8,919.0 725.8,918.3 C723.8,917.6 723.4,917.0 721.4,916.0 C719.4,915.0 716.3,913.1 714.0,912.3 C711.7,911.5 709.4,911.3 707.5,911.2 C705.6,911.1 704.6,911.2 702.9,911.8 C701.2,912.4 699.5,913.4 697.3,914.6 C695.1,915.8 691.9,918.2 689.9,919.2 C687.9,920.2 686.8,920.5 685.3,920.6 C683.8,920.7 682.3,920.4 680.6,919.7 C678.9,919.0 677.0,917.6 675.1,916.4 C673.2,915.2 671.0,913.2 669.5,912.3 C668.0,911.4 667.2,911.1 665.8,910.9 C664.4,910.7 663.1,910.9 661.2,911.3 C659.4,911.7 657.0,912.8 654.7,913.2 C652.4,913.6 649.6,913.9 647.3,913.7 C645.0,913.5 642.2,912.6 640.8,911.8 C639.4,910.9 638.9,909.9 639.0,908.6 C639.1,907.3 640.1,905.4 641.3,903.9 C642.5,902.4 644.5,901.1 646.4,899.3 C648.3,897.5 650.7,895.8 652.9,893.3 C655.0,890.8 657.3,887.8 659.2,884.5 C661.1,881.2 662.9,877.3 664.5,873.4 C666.0,869.5 667.4,865.6 668.5,861.3 C669.6,857.0 670.5,852.0 671.3,847.4 C672.1,842.8 672.7,837.4 673.1,833.6 C673.5,829.7 673.8,835.8 673.9,824.3 C674.0,812.8 673.8,817.6 673.6,764.3 C673.5,711.0 673.0,590.6 672.9,504.3 Z"/>
</g>
<path d="M666.8,242.0 L753.0,242.0 L753.0,500.0 C753.0,586.3 752.8,706.7 752.7,760.0 C752.6,813.3 752.5,807.7 752.6,820.0 C752.7,832.3 752.8,829.6 753.1,833.9 C753.4,838.2 753.7,842.0 754.4,845.9 C755.1,849.8 756.0,853.5 757.2,857.0 C758.5,860.5 760.4,864.4 761.9,867.2 C763.4,870.0 764.4,871.2 766.5,873.7 C768.6,876.2 772.0,879.4 774.8,882.0 C777.6,884.6 780.8,887.1 783.1,889.4 C785.4,891.7 787.4,894.0 788.7,895.9 C790.0,897.8 791.0,899.2 791.0,900.6 C791.0,902.0 790.3,903.3 788.7,904.3 C787.1,905.3 784.4,906.1 781.3,906.6 C778.2,907.1 773.9,907.2 770.2,907.0 C766.5,906.8 762.2,905.9 759.1,905.2 C756.0,904.5 753.7,903.3 751.7,902.9 C749.7,902.5 748.4,902.2 747.0,902.6 C745.6,903.0 744.7,903.9 743.3,905.2 C741.9,906.5 740.4,908.8 738.7,910.3 C737.0,911.8 735.3,913.5 733.1,914.4 C730.9,915.3 728.2,915.9 725.7,915.8 C723.2,915.7 720.3,914.7 718.3,914.0 C716.3,913.3 715.9,912.7 713.9,911.7 C711.9,910.7 708.8,908.8 706.5,908.0 C704.2,907.2 701.9,907.0 700.0,906.9 C698.1,906.8 697.1,906.9 695.4,907.5 C693.7,908.1 692.0,909.1 689.8,910.3 C687.6,911.5 684.4,913.9 682.4,914.9 C680.4,915.9 679.3,916.2 677.8,916.3 C676.2,916.4 674.8,916.1 673.1,915.4 C671.4,914.7 669.5,913.3 667.6,912.1 C665.8,910.9 663.5,908.9 662.0,908.0 C660.5,907.1 659.7,906.8 658.3,906.6 C656.9,906.4 655.6,906.6 653.7,907.0 C651.9,907.4 649.5,908.5 647.2,908.9 C644.9,909.3 642.1,909.6 639.8,909.4 C637.5,909.2 634.7,908.4 633.3,907.5 C631.9,906.6 631.4,905.6 631.5,904.3 C631.6,903.0 632.6,901.1 633.8,899.6 C635.0,898.1 637.0,896.8 638.9,895.0 C640.8,893.2 643.2,891.5 645.4,889.0 C647.6,886.5 649.9,883.5 651.9,880.2 C653.9,876.9 655.8,873.0 657.4,869.1 C659.0,865.2 660.4,861.3 661.6,857.0 C662.8,852.7 663.6,847.7 664.4,843.1 C665.2,838.5 665.8,833.1 666.2,829.3 C666.6,825.4 666.9,831.5 667.0,820.0 C667.1,808.5 666.9,813.3 666.9,760.0 C666.9,706.7 666.8,586.3 666.8,500.0 Z" fill="#fff" stroke="#111" stroke-width="1.9" stroke-linejoin="round"/>
<g fill="none" stroke="#111" stroke-width="1.8" stroke-linecap="round">
<path d="M694.8,253.3 C694.8,294.4 694.8,415.6 694.8,500.0 C694.8,584.5 694.9,706.7 694.9,760.0 C694.9,813.3 694.8,806.9 694.9,820.0 C695.0,833.1 695.5,832.6 695.4,838.5 C695.3,844.4 695.0,850.0 694.4,855.2 C693.8,860.5 692.9,865.4 691.7,870.0 C690.5,874.6 688.9,879.2 687.0,883.0 C685.1,886.8 681.7,891.1 680.6,892.7 "/>
<path d="M722.2,253.3 C722.2,294.4 722.2,415.6 722.2,500.0 C722.2,584.5 722.3,706.7 722.3,760.0 C722.3,813.3 722.4,806.1 722.4,820.0 C722.4,833.9 721.9,836.6 722.1,843.1 C722.3,849.6 722.6,854.0 723.4,858.9 C724.2,863.8 725.4,868.6 726.7,872.8 C728.0,877.0 729.6,880.7 731.3,883.9 C733.0,887.1 736.0,890.5 736.9,891.8 "/>
<path d="M735.9,788.5 C736.0,791.2 736.1,799.8 736.3,805.0 C736.5,810.2 736.9,814.4 737.3,820.0 C737.7,825.6 738.0,832.6 738.7,838.5 C739.4,844.4 740.1,850.3 741.5,855.2 C742.9,860.1 744.5,863.8 747.0,868.1 C749.5,872.4 753.2,877.2 756.3,881.1 C759.4,885.0 762.8,888.4 765.6,891.3 C768.4,894.2 771.8,897.5 773.0,898.7 "/>
</g></g>
<text x="75.49" y="64.40" font-size="44.00" font-weight="normal" fill="#111" stroke="#fff" stroke-width="0.60" textLength="491.97" lengthAdjust="spacingAndGlyphs">Window Curtain Guide</text>
<text x="74.65" y="116.80" font-size="44.00" font-weight="normal" fill="#111" stroke="#fff" stroke-width="0.60" textLength="574.58" lengthAdjust="spacingAndGlyphs">to Find the Perfect Length</text>
<text x="75.99" y="176.80" font-size="13.40" font-weight="normal" fill="#111" textLength="633.85" lengthAdjust="spacingAndGlyphs">When selecting the length of your curtains, determine where you want to hang the curtain rod and</text>
<text x="75.13" y="191.95" font-size="13.40" font-weight="normal" fill="#111" textLength="656.86" lengthAdjust="spacingAndGlyphs">how you want it to flow on the floor. The longer the length, the more dramatic the puddle on the floor.</text>
<text x="75.35" y="215.86" font-size="12.30" font-weight="bold" fill="#111" stroke="#fff" stroke-width="0.12" textLength="183.86" lengthAdjust="spacingAndGlyphs">Curtain rod can be mounted</text>
<text x="75.71" y="231.56" font-size="12.30" font-weight="bold" fill="#111" stroke="#fff" stroke-width="0.12" textLength="199.58" lengthAdjust="spacingAndGlyphs">2-6 inches above window trim.</text>
<text x="948.70" y="186.46" font-size="12.30" font-weight="bold" fill="#111" stroke="#fff" stroke-width="0.12" textLength="80.97" lengthAdjust="spacingAndGlyphs">For a pop of</text>
<text x="949.03" y="201.96" font-size="12.30" font-weight="bold" fill="#111" stroke="#fff" stroke-width="0.12" textLength="81.35" lengthAdjust="spacingAndGlyphs">drama, hang</text>
<text x="949.13" y="217.56" font-size="12.30" font-weight="bold" fill="#111" stroke="#fff" stroke-width="0.12" textLength="113.42" lengthAdjust="spacingAndGlyphs">curtain 1-2 inches</text>
<text x="949.13" y="232.96" font-size="12.30" font-weight="bold" fill="#111" stroke="#fff" stroke-width="0.12" textLength="95.44" lengthAdjust="spacingAndGlyphs">from ceiling to</text>
<text x="948.61" y="248.46" font-size="12.30" font-weight="bold" fill="#111" stroke="#fff" stroke-width="0.12" textLength="90.04" lengthAdjust="spacingAndGlyphs">help elongate</text>
<text x="949.11" y="263.96" font-size="12.30" font-weight="bold" fill="#111" stroke="#fff" stroke-width="0.12" textLength="87.26" lengthAdjust="spacingAndGlyphs">your window.</text>
<text x="153.62" y="760.95" font-size="25.40" font-weight="normal" fill="#111" stroke="#fff" stroke-width="0.30" textLength="63.90" lengthAdjust="spacingAndGlyphs">63in.</text>
<text x="117.08" y="776.50" font-size="12.60" font-weight="normal" fill="#111" textLength="136.43" lengthAdjust="spacingAndGlyphs">Curtains naturally fall</text>
<text x="98.34" y="792.00" font-size="12.60" font-weight="normal" fill="#111" textLength="173.66" lengthAdjust="spacingAndGlyphs">right below the window sill</text>
<text x="329.39" y="889.85" font-size="25.40" font-weight="normal" fill="#111" stroke="#fff" stroke-width="0.30" textLength="64.84" lengthAdjust="spacingAndGlyphs">84in.</text>
<text x="304.82" y="905.80" font-size="12.60" font-weight="normal" fill="#111" textLength="112.49" lengthAdjust="spacingAndGlyphs">Curtains naturally</text>
<text x="284.68" y="920.80" font-size="12.60" font-weight="normal" fill="#111" textLength="152.89" lengthAdjust="spacingAndGlyphs">reach or touch the floor</text>
<text x="505.80" y="925.45" font-size="25.40" font-weight="normal" fill="#111" stroke="#fff" stroke-width="0.30" textLength="63.46" lengthAdjust="spacingAndGlyphs">95in.</text>
<text x="460.07" y="941.10" font-size="12.60" font-weight="normal" fill="#111" textLength="154.58" lengthAdjust="spacingAndGlyphs">Curtains naturally drape</text>
<text x="471.95" y="956.60" font-size="12.60" font-weight="normal" fill="#111" textLength="130.22" lengthAdjust="spacingAndGlyphs">a little past the floor</text>
<text x="677.37" y="961.45" font-size="25.40" font-weight="normal" fill="#111" stroke="#fff" stroke-width="0.30" textLength="76.18" lengthAdjust="spacingAndGlyphs">108in.</text>
<text x="635.07" y="977.00" font-size="12.60" font-weight="normal" fill="#111" textLength="162.04" lengthAdjust="spacingAndGlyphs">Curtains naturally puddle</text>
<text x="631.74" y="992.50" font-size="12.60" font-weight="normal" fill="#111" textLength="167.42" lengthAdjust="spacingAndGlyphs">or fold over onto the floor</text>
<text x="817.53" y="889.85" font-size="25.40" font-weight="normal" fill="#111" stroke="#fff" stroke-width="0.30" textLength="145.79" lengthAdjust="spacingAndGlyphs">95in.-120in.</text>
<text x="833.58" y="905.60" font-size="12.60" font-weight="normal" fill="#111" textLength="112.59" lengthAdjust="spacingAndGlyphs">For longer length</text>
<text x="813.84" y="921.10" font-size="12.60" font-weight="normal" fill="#111" textLength="152.58" lengthAdjust="spacingAndGlyphs">curtains and depending</text>
<text x="822.68" y="936.50" font-size="12.60" font-weight="normal" fill="#111" textLength="135.49" lengthAdjust="spacingAndGlyphs">on placement of rod,</text>
<text x="830.59" y="952.00" font-size="12.60" font-weight="normal" fill="#111" textLength="118.76" lengthAdjust="spacingAndGlyphs">curtains can touch</text>
<text x="809.71" y="967.50" font-size="12.60" font-weight="normal" fill="#111" textLength="161.40" lengthAdjust="spacingAndGlyphs">the floor or flow outward</text>
<text x="818.62" y="983.10" font-size="12.60" font-weight="normal" fill="#111" textLength="143.18" lengthAdjust="spacingAndGlyphs">for a dramatic puddle.</text>
<text x="53.22" y="966.61" font-size="20.30" font-weight="bold" fill="#484848" stroke="#fff" stroke-width="0.22" textLength="335.92" lengthAdjust="spacingAndGlyphs">For proper coverage, total width</text>
<text x="52.74" y="991.11" font-size="20.30" font-weight="bold" fill="#484848" stroke="#fff" stroke-width="0.22" textLength="343.63" lengthAdjust="spacingAndGlyphs">of the curtains should measure at</text>
<text x="52.52" y="1015.41" font-size="20.30" font-weight="bold" fill="#484848" stroke="#fff" stroke-width="0.22" textLength="407.11" lengthAdjust="spacingAndGlyphs">least 1.5 times the width of the window.</text>
<text x="53.08" y="1040.11" font-size="20.30" font-weight="bold" fill="#484848" stroke="#fff" stroke-width="0.22" textLength="596.05" lengthAdjust="spacingAndGlyphs">For fullness, should be 2-3 times the width of the window.</text>
</svg>
</body></html>
